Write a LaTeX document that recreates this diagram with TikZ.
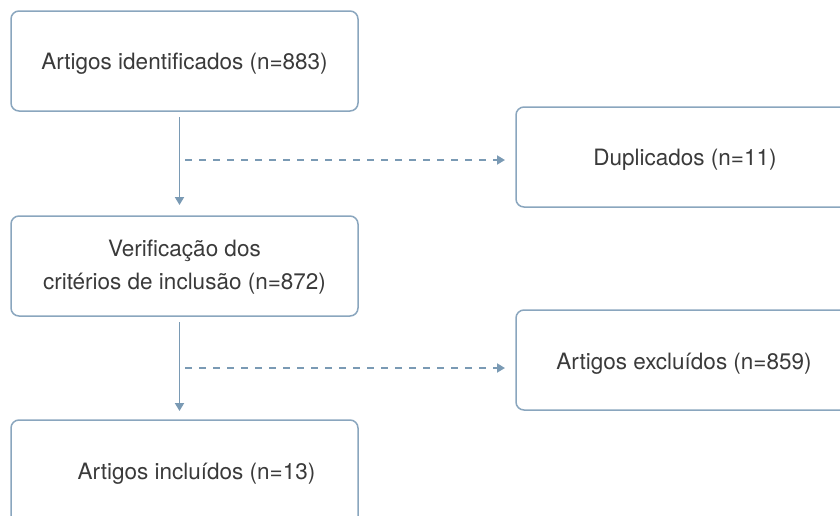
\documentclass[tikz,border=0pt]{standalone}
\usepackage{fontspec}
\setmainfont{TeX Gyre Heros}
\usetikzlibrary{arrows.meta}
\definecolor{edge}{HTML}{8AA6BE}
\definecolor{arr}{HTML}{7A9AB4}
\definecolor{txt}{HTML}{3A3A3A}
\tikzset{
  box/.style={draw=edge, line width=1.5pt, rounded corners=8pt, fill=white},
  lbl/.style={text=txt, font=\fontsize{22.5}{33}\selectfont, align=center},
  flow/.style={draw=arr, line width=1.8pt, -{Triangle[length=8pt,width=9pt]}},
  side/.style={draw=arr, line width=1.8pt, dash pattern=on 7pt off 7pt, -{Triangle[length=8pt,width=9pt]}}
}
\begin{document}
\begin{tikzpicture}[x=1pt,y=-1pt]
\useasboundingbox (0,0) rectangle (840,515);
\begin{scope}
\clip (0,0) rectangle (840,515);
\draw[box] (11,11) rectangle (358,111);
\draw[box] (516,107) rectangle (860,207);
\draw[box] (11,216) rectangle (358,316);
\draw[box] (516,310) rectangle (860,410);
\draw[box] (11,420) rectangle (358,540);
\end{scope}
\node[lbl] (a) at (184.5,63.5) {Artigos identificados (n=883)};
\node[lbl] (d) at (685,159.5) {Duplicados (n=11)};
\node[lbl] (v) at (184.5,267.5) {Verificação dos\\critérios de inclusão (n=872)};
\node[lbl] (e) at (684,363.5) {Artigos excluídos (n=859)};
\node[lbl] (i) at (196.5,473.5) {Artigos incluídos (n=13)};
\coordinate (a1) at (179.5,117);
\coordinate (a2) at (179.5,205);
\coordinate (d1) at (185,160);
\coordinate (d2) at (505,160);
\coordinate (v1) at (179.5,322);
\coordinate (v2) at (179.5,411);
\coordinate (e1) at (185,368);
\coordinate (e2) at (505,368);
\draw[flow] (a1) -- (a2);
\draw[side] (d1) -- (d2);
\draw[flow] (v1) -- (v2);
\draw[side] (e1) -- (e2);
\end{tikzpicture}
\end{document}
